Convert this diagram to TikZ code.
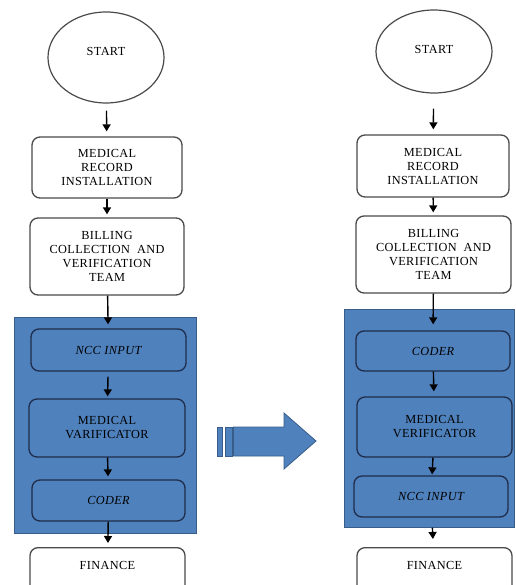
\documentclass[tikz,border=0pt]{standalone}
\usepackage{fontspec}
\setmainfont{Liberation Serif}[LetterSpace=3]
\usetikzlibrary{arrows.meta,shapes.geometric}
\definecolor{ofblue}{HTML}{4F81BD}
\definecolor{linegray}{HTML}{4A4A4A}
\definecolor{navyline}{HTML}{1F2D4A}
\definecolor{rimblue}{HTML}{385D8A}

\begin{document}
\begin{tikzpicture}[x=1pt, y=-1pt,
  every node/.style={font=\fontsize{12.3}{14}\selectfont, align=center, inner sep=3pt, text=black},
  startnode/.style={ellipse, draw=linegray, line width=1.2pt},
  stepbox/.style={draw=linegray, fill=white, rounded corners=8pt, line width=1.3pt},
  bluebox/.style={draw=rimblue, fill=ofblue, line width=1pt},
  innerbox/.style={draw=navyline, fill=ofblue, rounded corners=8pt, line width=1.3pt},
  flow/.style={-{Triangle[length=7pt,width=8pt]}, line width=1.4pt}]
  \clip (0,0) rectangle (515,585);
  \fill[white] (0,0) rectangle (515,585);
  % left chart
  \node[startnode, minimum width=116pt, minimum height=91pt] (startL) at (106,57.5) {};
  \node (startLtxt) at (106,51) {START};
  \node[stepbox, minimum width=150pt, minimum height=61pt] (recL) at (107,167.5) {MEDICAL\\RECORD\\INSTALLATION};
  \node[stepbox, minimum width=154pt, minimum height=77pt] (billL) at (107,256.5) {BILLING\\COLLECTION\ \ AND\\VERIFICATION\\TEAM};
  \node[bluebox, minimum width=182pt, minimum height=216pt] (blockL) at (105,425) {};
  \node[innerbox, minimum width=155pt, minimum height=42pt] (nccL) at (108.5,350) {\itshape NCC INPUT};
  \node[innerbox, minimum width=156pt, minimum height=58pt] (varL) at (107,428) {MEDICAL\\VARIFICATOR};
  \node[innerbox, minimum width=153pt, minimum height=41pt] (coderL) at (108.5,500.5) {\itshape CODER};
  \node[stepbox, anchor=north, minimum width=155pt, text height=19pt, text depth=30pt] (finL) at (107.5,547) {FINANCE};
  \draw[flow, shorten <=7pt, shorten >=5pt] (startL) -- (recL);
  \draw[flow, shorten >=3pt] (recL) -- (billL);
  \draw[flow, shorten >=4pt] (billL) -- (nccL);
  \draw[flow, shorten <=5pt, shorten >=2pt] (nccL) -- (varL);
  \draw[flow, shorten >=3pt] (varL) -- (coderL);
  \draw[flow, shorten >=4pt] (coderL) -- (finL);
  % big arrow
  \draw[rimblue, fill=ofblue, line width=0.8pt] (217,427) rectangle (222.5,456);
  \draw[rimblue, fill=ofblue, line width=0.8pt] (225,427) rectangle (232.5,456);
  \draw[rimblue, fill=ofblue, line width=0.8pt] (233.5,427) -- (284,427) -- (284,413) -- (316,441)
    -- (284,469) -- (284,456) -- (233.5,456) -- cycle;
  % right chart
  \node[startnode, minimum width=116pt, minimum height=83pt] (startR) at (434,51.5) {};
  \node (startRtxt) at (434,49) {START};
  \node[stepbox, minimum width=152pt, minimum height=62pt] (recR) at (433,166) {MEDICAL\\RECORD\\INSTALLATION};
  \node[stepbox, minimum width=155pt, minimum height=77pt] (billR) at (433.5,254.5) {BILLING\\COLLECTION\ \ AND\\VERIFICATION\\TEAM};
  \node[bluebox, minimum width=170pt, minimum height=218pt] (blockR) at (429,418) {};
  \node[innerbox, minimum width=154pt, minimum height=40pt] (coderR) at (433,351) {\itshape CODER};
  \node[innerbox, minimum width=155pt, minimum height=60pt] (verR) at (434.5,427) {MEDICAL\\VERIFICATOR};
  \node[innerbox, minimum width=154pt, minimum height=41pt] (nccR) at (431,496.5) {\itshape NCC INPUT};
  \node[stepbox, anchor=north, minimum width=155pt, text height=19pt, text depth=30pt] (finR) at (434.5,547) {FINANCE};
  \draw[flow, shorten <=15pt, shorten >=5pt] (startR) -- (recR);
  \draw[flow, shorten >=3pt] (recR) -- (billR);
  \draw[flow, shorten >=6pt] (billR) -- (coderR);
  \draw[flow, shorten >=5pt] (coderR) -- (verR);
  \draw[flow, shorten >=1pt] (verR) -- (nccR);
  \draw[flow, shorten <=10pt, shorten >=8pt] (nccR) -- (finR);
\end{tikzpicture}
\end{document}
